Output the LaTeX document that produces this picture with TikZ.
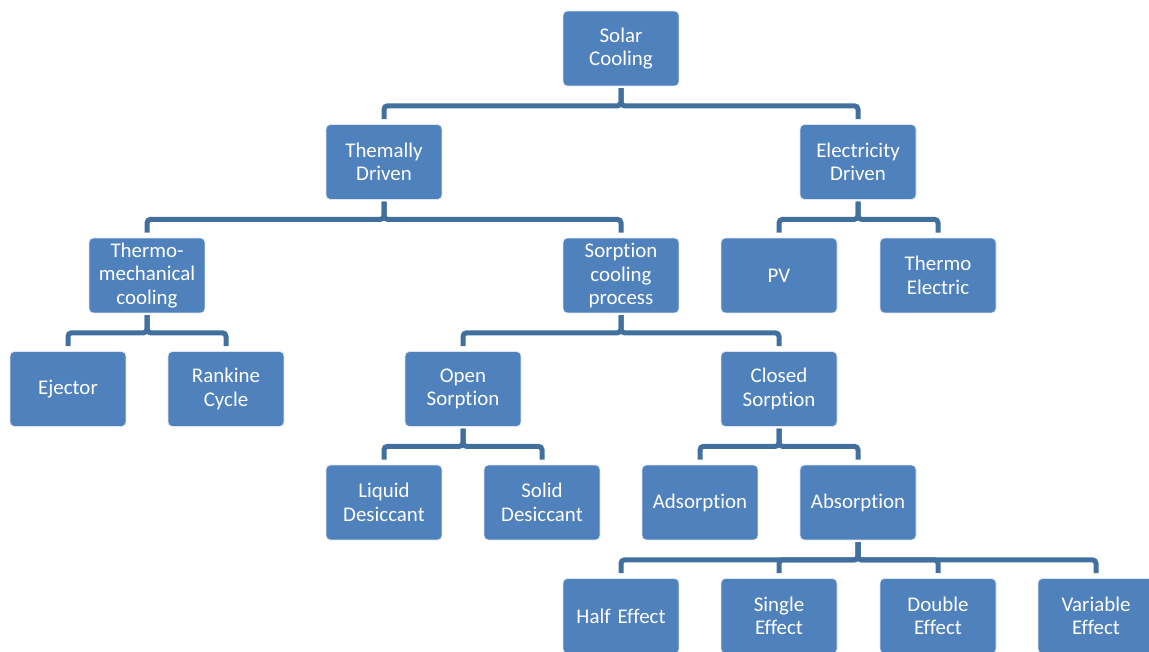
\documentclass[tikz,border=0pt]{standalone}
\usepackage{fontspec}
\setmainfont[Ligatures = NoCommon]{Carlito}
\definecolor{boxblue}{HTML}{4F81BD}
\definecolor{linkblue}{HTML}{41709F}
\tikzset{box/.style = {rectangle, rounded corners = 2.5pt, fill = boxblue, draw = white!80!boxblue, line width = 0.4pt,
                       minimum width = 2.32cm, minimum height = 1.5cm, inner sep = 0, text width = 2.25cm, align = center,
                       text = white, font = \fontsize{11.9}{13.4}\selectfont}}
\tikzset{link/.style = {draw = linkblue, line width = 0.1cm, rounded corners = 2pt, shorten < = 1pt, shorten > = 0.1cm}}

\begin{document}
\begin{tikzpicture}[x = 0.02cm, y = -0.02cm]
\useasboundingbox (0,0) rectangle (1149,652);
% level 1 and 2
\node[box] (solar) at (621,48.5) {Solar\\Cooling};
\node[box] (thermal) at (384,162) {Themally\\Driven};
\node[box] (elec) at (858,162) {Electricity\\Driven};
% level 3
\node[box] (mech) at (147,275.5) {Thermo-\\mechanical\\cooling};
\node[box] (sorp) at (621,275.5) {Sorption\\cooling\\process};
\node[box] (pv) at (779,275.5) {PV};
\node[box] (tele) at (938,275.5) {Thermo\\Electric};
% level 4
\node[box] (eject) at (68,389) {Ejector};
\node[box] (rank) at (226,389) {Rankine\\Cycle};
\node[box] (open) at (463,389) {Open\\Sorption};
\node[box] (closed) at (779,389) {Closed\\Sorption};
% level 5
\node[box] (liquid) at (384,502.5) {Liquid\\Desiccant};
\node[box] (solid) at (542,502.5) {Solid\\Desiccant};
\node[box] (adsorp) at (700,502.5) {Adsorption};
\node[box] (absorp) at (858,502.5) {Absorption};
% level 6
\node[box] (half) at (621,616) {Half Effect};
\node[box] (single) at (779,616) {Single\\Effect};
\node[box] (double) at (938,616) {Double\\Effect};
\node[box] (var) at (1096,616) {Variable\\Effect};
% connectors
\foreach \p/\c in {solar/thermal, solar/elec, thermal/mech, thermal/sorp, elec/pv, elec/tele,
                   mech/eject, mech/rank, sorp/open, sorp/closed, open/liquid, open/solid,
                   closed/adsorp, closed/absorp, absorp/half, absorp/single, absorp/double, absorp/var}
  \draw[link] (\p.south) -- ++(0,19.5) -| (\c.north);
\end{tikzpicture}
\end{document}
